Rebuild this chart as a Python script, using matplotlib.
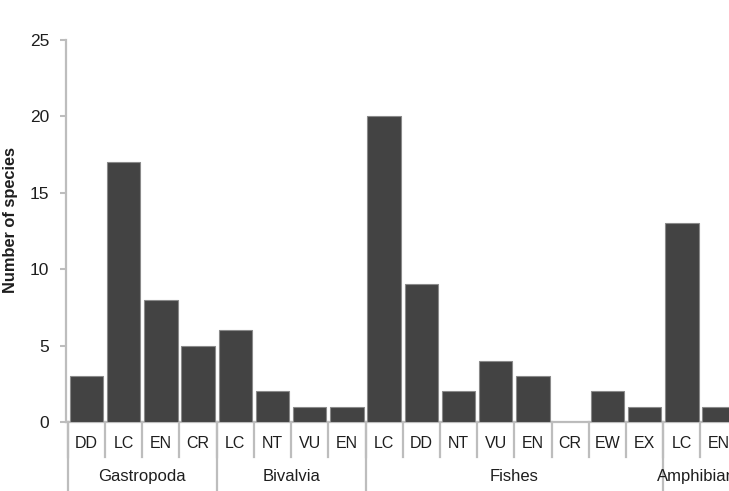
import matplotlib.pyplot as plt
from matplotlib.transforms import blended_transform_factory

plt.rcParams["font.family"] = ["Liberation Sans", "DejaVu Sans"]

groups = ["Gastropoda", "Bivalvia", "Fishes", "Amphibians"]
group_sizes = [4, 4, 8, 2]
categories = ["DD", "LC", "EN", "CR",
              "LC", "NT", "VU", "EN",
              "LC", "DD", "NT", "VU", "EN", "CR", "EW", "EX",
              "LC", "EN"]
species = [3, 17, 8, 5,
           6, 2, 1, 1,
           20, 9, 2, 4, 3, 0, 2, 1,
           13, 1]

axis_gray = "#bdbdbd"
text_col = "#1e1e1e"

fig = plt.figure(figsize=(7.29, 4.91), dpi=100)
ax = fig.add_axes([0.0905, 0.1405, 0.9213, 0.778])

xs = [i + 0.5 for i in range(len(categories))]
ax.bar(xs, species, width=0.9, color="#434343", edgecolor="#8a8a8a", linewidth=0.8, zorder=3)

ax.set_xlim(-0.05, len(categories))
ax.set_ylim(0, 25)
ax.set_yticks([0, 5, 10, 15, 20, 25])
ax.tick_params(axis="y", length=4, width=1.5, color=axis_gray, pad=8, labelsize=12.5, labelcolor=text_col)
ax.set_xticks([])

for side in ["top", "right"]:
    ax.spines[side].set_visible(False)
for side in ["left", "bottom"]:
    ax.spines[side].set_color(axis_gray)
    ax.spines[side].set_linewidth(1.6)

ax.set_ylabel("Number of species", fontsize=11.8, fontweight="bold", color=text_col)
ax.yaxis.set_label_coords(-0.071, 0.53)

trans = blended_transform_factory(ax.transData, ax.transAxes)

# category labels and short separators
for i, c in enumerate(categories):
    ax.text(i + 0.5, -0.055, c, transform=trans, ha="center", va="center", fontsize=11.5, color=text_col)
    ax.plot([i, i], [0, -0.092], transform=trans, color=axis_gray, lw=1.6, clip_on=False)

# group labels and long separators
start = 0
for g, n in zip(groups, group_sizes):
    ax.plot([start, start], [0, -0.19], transform=trans, color=axis_gray, lw=1.6, clip_on=False)
    ax.text(start + n / 2, -0.143, g, transform=trans, ha="center", va="center", fontsize=12, color=text_col)
    start += n

fig.savefig("out.png", dpi=100)
